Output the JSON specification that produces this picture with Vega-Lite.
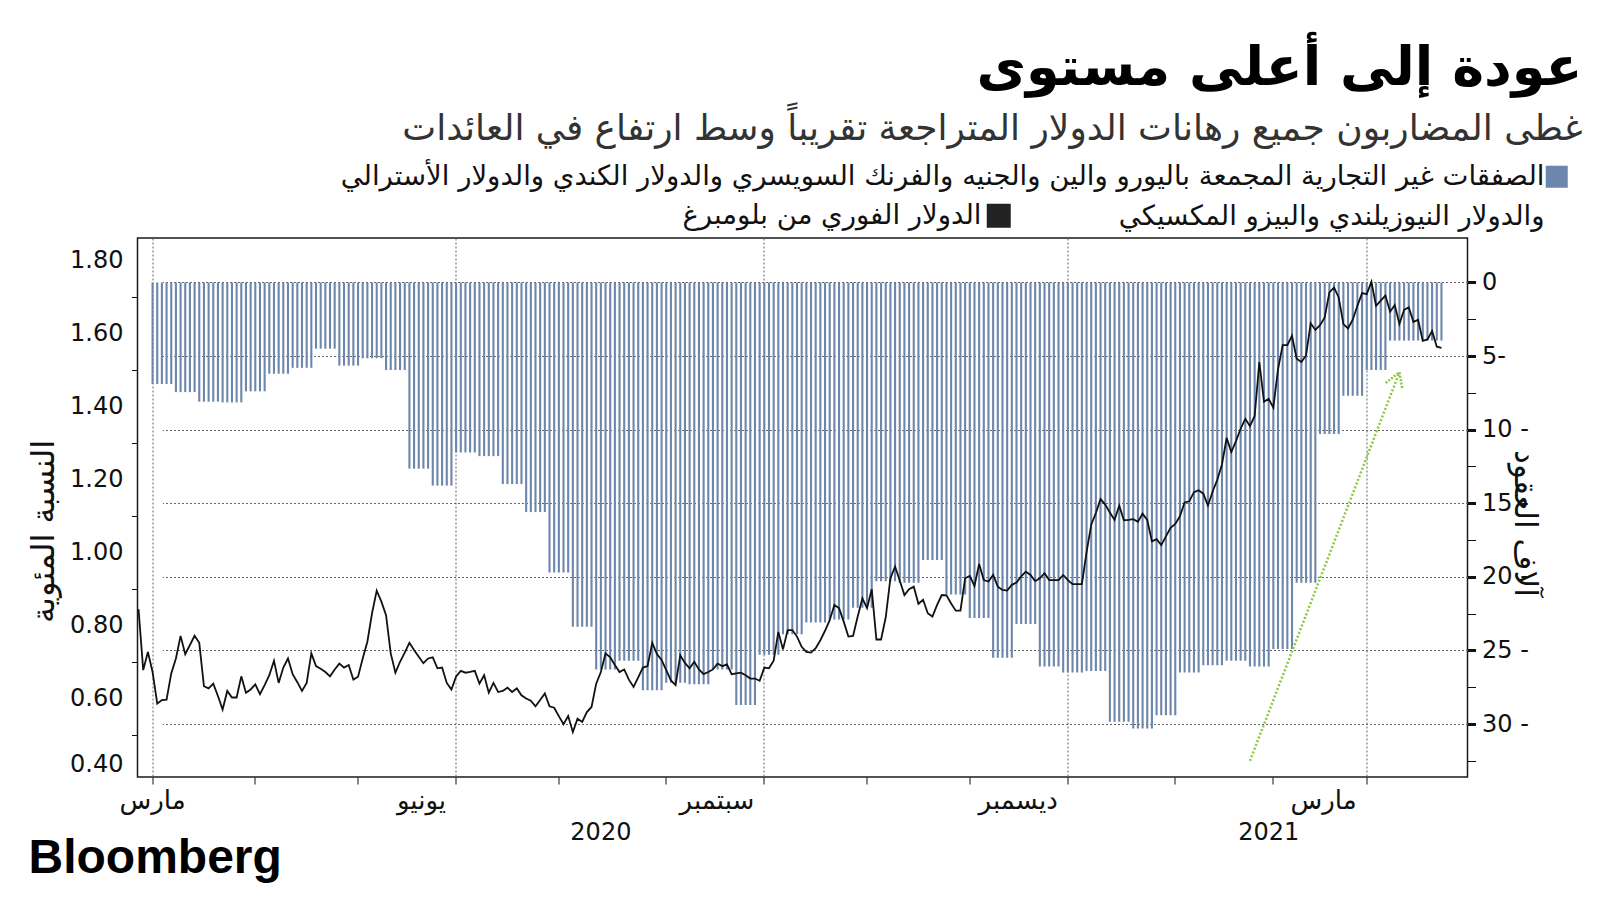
{
  "$schema": "https://vega.github.io/schema/vega-lite/v6.json",
  "autosize": {"type": "none"},
  "padding": {"left": 137.5, "top": 238, "right": 132.5, "bottom": 123},
  "width": 1330,
  "height": 539,
  "background": "#ffffff",
  "config": {
    "view": {"stroke": "#1a1a1a", "strokeWidth": 1.5},
    "font": "DejaVu Sans",
    "axis": {"labelFont": "DejaVu Sans", "titleFont": "DejaVu Sans", "domain": false, "labelColor": "#111111", "tickColor": "#111111", "titleColor": "#111111", "titleFontWeight": "normal"},
    "legend": {"labelFont": "DejaVu Sans"}
  },
  "title": {
    "text": "عودة إلى أعلى مستوى",
    "subtitle": "غطى المضاربون جميع رهانات الدولار المتراجعة تقريباً وسط ارتفاع في العائدات",
    "anchor": "end",
    "frame": "group",
    "orient": "top",
    "dx": 115,
    "offset": 16,
    "font": "DejaVu Sans",
    "fontSize": 54,
    "fontWeight": "bold",
    "color": "#000000",
    "subtitleFont": "DejaVu Sans",
    "subtitleFontSize": 36,
    "subtitleColor": "#333333",
    "subtitlePadding": 16
  },
  "data": {"values": [
    {"d":"2020-02-26","v":0.845},{"d":"2020-02-27","v":0.678},{"d":"2020-02-28","v":0.728},
    {"d":"2020-03-02","v":0.673,"c":-6.9},{"d":"2020-03-03","v":0.586,"c":-6.9},{"d":"2020-03-04","v":0.596,"c":-6.9},{"d":"2020-03-05","v":0.597,"c":-6.9},{"d":"2020-03-06","v":0.669,"c":-6.9},
    {"d":"2020-03-09","v":0.710,"c":-7.45},{"d":"2020-03-10","v":0.772,"c":-7.45},{"d":"2020-03-11","v":0.722,"c":-7.45},{"d":"2020-03-12","v":0.747,"c":-7.45},{"d":"2020-03-13","v":0.772,"c":-7.45},
    {"d":"2020-03-16","v":0.753,"c":-8.1},{"d":"2020-03-17","v":0.634,"c":-8.1},{"d":"2020-03-18","v":0.628,"c":-8.1},{"d":"2020-03-19","v":0.641,"c":-8.1},{"d":"2020-03-20","v":0.607,"c":-8.1},
    {"d":"2020-03-23","v":0.570,"c":-8.15},{"d":"2020-03-24","v":0.621,"c":-8.15},{"d":"2020-03-25","v":0.603,"c":-8.15},{"d":"2020-03-26","v":0.603,"c":-8.15},{"d":"2020-03-27","v":0.661,"c":-8.15},
    {"d":"2020-03-30","v":0.616,"c":-7.4},{"d":"2020-03-31","v":0.625,"c":-7.4},{"d":"2020-04-01","v":0.639,"c":-7.4},{"d":"2020-04-02","v":0.612,"c":-7.4},{"d":"2020-04-03","v":0.637,"c":-7.4},
    {"d":"2020-04-06","v":0.664,"c":-6.2},{"d":"2020-04-07","v":0.704,"c":-6.2},{"d":"2020-04-08","v":0.643,"c":-6.2},{"d":"2020-04-09","v":0.685,"c":-6.2},{"d":"2020-04-10","v":0.710,"c":-6.2},
    {"d":"2020-04-13","v":0.667,"c":-5.8},{"d":"2020-04-14","v":0.645,"c":-5.8},{"d":"2020-04-15","v":0.621,"c":-5.8},{"d":"2020-04-16","v":0.643,"c":-5.8},{"d":"2020-04-17","v":0.724,"c":-5.8},
    {"d":"2020-04-20","v":0.689,"c":-4.5},{"d":"2020-04-21","v":0.682,"c":-4.5},{"d":"2020-04-22","v":0.673,"c":-4.5},{"d":"2020-04-23","v":0.661,"c":-4.5},{"d":"2020-04-24","v":0.680,"c":-4.5},
    {"d":"2020-04-27","v":0.696,"c":-5.65},{"d":"2020-04-28","v":0.685,"c":-5.65},{"d":"2020-04-29","v":0.692,"c":-5.65},{"d":"2020-04-30","v":0.652,"c":-5.65},{"d":"2020-05-01","v":0.660,"c":-5.65},
    {"d":"2020-05-04","v":0.710,"c":-5.15},{"d":"2020-05-05","v":0.756,"c":-5.15},{"d":"2020-05-06","v":0.834,"c":-5.15},{"d":"2020-05-07","v":0.896,"c":-5.15},{"d":"2020-05-08","v":0.866,"c":-5.15},
    {"d":"2020-05-11","v":0.829,"c":-5.95},{"d":"2020-05-12","v":0.724,"c":-5.95},{"d":"2020-05-13","v":0.671,"c":-5.95},{"d":"2020-05-14","v":0.701,"c":-5.95},{"d":"2020-05-15","v":0.726,"c":-5.95},
    {"d":"2020-05-18","v":0.753,"c":-12.65},{"d":"2020-05-19","v":0.733,"c":-12.65},{"d":"2020-05-20","v":0.715,"c":-12.65},{"d":"2020-05-21","v":0.697,"c":-12.65},{"d":"2020-05-22","v":0.710,"c":-12.65},
    {"d":"2020-05-25","v":0.713,"c":-13.8},{"d":"2020-05-26","v":0.683,"c":-13.8},{"d":"2020-05-27","v":0.685,"c":-13.8},{"d":"2020-05-28","v":0.643,"c":-13.8},{"d":"2020-05-29","v":0.625,"c":-13.8},
    {"d":"2020-06-01","v":0.661,"c":-11.55},{"d":"2020-06-02","v":0.676,"c":-11.55},{"d":"2020-06-03","v":0.671,"c":-11.55},{"d":"2020-06-04","v":0.673,"c":-11.55},{"d":"2020-06-05","v":0.676,"c":-11.55},
    {"d":"2020-06-08","v":0.641,"c":-11.8},{"d":"2020-06-09","v":0.664,"c":-11.8},{"d":"2020-06-10","v":0.616,"c":-11.8},{"d":"2020-06-11","v":0.643,"c":-11.8},{"d":"2020-06-12","v":0.618,"c":-11.8},
    {"d":"2020-06-15","v":0.621,"c":-13.7},{"d":"2020-06-16","v":0.630,"c":-13.7},{"d":"2020-06-17","v":0.618,"c":-13.7},{"d":"2020-06-18","v":0.628,"c":-13.7},{"d":"2020-06-19","v":0.609,"c":-13.7},
    {"d":"2020-06-22","v":0.600,"c":-15.6},{"d":"2020-06-23","v":0.594,"c":-15.6},{"d":"2020-06-24","v":0.579,"c":-15.6},{"d":"2020-06-25","v":0.596,"c":-15.6},{"d":"2020-06-26","v":0.614,"c":-15.6},
    {"d":"2020-06-29","v":0.579,"c":-19.7},{"d":"2020-06-30","v":0.575,"c":-19.7},{"d":"2020-07-01","v":0.552,"c":-19.7},{"d":"2020-07-02","v":0.530,"c":-19.7},{"d":"2020-07-03","v":0.552,"c":-19.7},
    {"d":"2020-07-06","v":0.508,"c":-23.4},{"d":"2020-07-07","v":0.545,"c":-23.4},{"d":"2020-07-08","v":0.536,"c":-23.4},{"d":"2020-07-09","v":0.563,"c":-23.4},{"d":"2020-07-10","v":0.577,"c":-23.4},
    {"d":"2020-07-13","v":0.641,"c":-26.3},{"d":"2020-07-14","v":0.673,"c":-26.3},{"d":"2020-07-15","v":0.724,"c":-26.3},{"d":"2020-07-16","v":0.713,"c":-26.3},{"d":"2020-07-17","v":0.692,"c":-26.3},
    {"d":"2020-07-20","v":0.673,"c":-25.7},{"d":"2020-07-21","v":0.680,"c":-25.7},{"d":"2020-07-22","v":0.652,"c":-25.7},{"d":"2020-07-23","v":0.632,"c":-25.7},{"d":"2020-07-24","v":0.658,"c":-25.7},
    {"d":"2020-07-27","v":0.685,"c":-27.7},{"d":"2020-07-28","v":0.689,"c":-27.7},{"d":"2020-07-29","v":0.753,"c":-27.7},{"d":"2020-07-30","v":0.722,"c":-27.7},{"d":"2020-07-31","v":0.706,"c":-27.7},
    {"d":"2020-08-03","v":0.678,"c":-27.2},{"d":"2020-08-04","v":0.650,"c":-27.2},{"d":"2020-08-05","v":0.637,"c":-27.2},{"d":"2020-08-06","v":0.719,"c":-27.2},{"d":"2020-08-07","v":0.698,"c":-27.2},
    {"d":"2020-08-10","v":0.683,"c":-27.3},{"d":"2020-08-11","v":0.701,"c":-27.3},{"d":"2020-08-12","v":0.680,"c":-27.3},{"d":"2020-08-13","v":0.667,"c":-27.3},{"d":"2020-08-14","v":0.673,"c":-27.3},
    {"d":"2020-08-17","v":0.680,"c":-26.3},{"d":"2020-08-18","v":0.696,"c":-26.3},{"d":"2020-08-19","v":0.689,"c":-26.3},{"d":"2020-08-20","v":0.694,"c":-26.3},{"d":"2020-08-21","v":0.667,"c":-26.3},
    {"d":"2020-08-24","v":0.669,"c":-28.7},{"d":"2020-08-25","v":0.671,"c":-28.7},{"d":"2020-08-26","v":0.664,"c":-28.7},{"d":"2020-08-27","v":0.655,"c":-28.7},{"d":"2020-08-28","v":0.655,"c":-28.7},
    {"d":"2020-08-31","v":0.649,"c":-25.3},{"d":"2020-09-01","v":0.685,"c":-25.3},{"d":"2020-09-02","v":0.683,"c":-25.3},{"d":"2020-09-03","v":0.704,"c":-25.3},{"d":"2020-09-04","v":0.783,"c":-25.3},
    {"d":"2020-09-07","v":0.735,"c":-23.9},{"d":"2020-09-08","v":0.788,"c":-23.9},{"d":"2020-09-09","v":0.788,"c":-23.9},{"d":"2020-09-10","v":0.770,"c":-23.9},{"d":"2020-09-11","v":0.742,"c":-23.9},
    {"d":"2020-09-14","v":0.728,"c":-23.1},{"d":"2020-09-15","v":0.726,"c":-23.1},{"d":"2020-09-16","v":0.738,"c":-23.1},{"d":"2020-09-17","v":0.760,"c":-23.1},{"d":"2020-09-18","v":0.786,"c":-23.1},
    {"d":"2020-09-21","v":0.815,"c":-22.9},{"d":"2020-09-22","v":0.857,"c":-22.9},{"d":"2020-09-23","v":0.848,"c":-22.9},{"d":"2020-09-24","v":0.811,"c":-22.9},{"d":"2020-09-25","v":0.770,"c":-22.9},
    {"d":"2020-09-28","v":0.772,"c":-22.1},{"d":"2020-09-29","v":0.825,"c":-22.1},{"d":"2020-09-30","v":0.875,"c":-22.1},{"d":"2020-10-01","v":0.848,"c":-22.1},{"d":"2020-10-02","v":0.900,"c":-22.1},
    {"d":"2020-10-05","v":0.762,"c":-20.3},{"d":"2020-10-06","v":0.762,"c":-20.3},{"d":"2020-10-07","v":0.823,"c":-20.3},{"d":"2020-10-08","v":0.930,"c":-20.3},{"d":"2020-10-09","v":0.962,"c":-20.3},
    {"d":"2020-10-12","v":0.924,"c":-20.4},{"d":"2020-10-13","v":0.884,"c":-20.4},{"d":"2020-10-14","v":0.900,"c":-20.4},{"d":"2020-10-15","v":0.907,"c":-20.4},{"d":"2020-10-16","v":0.860,"c":-20.4},
    {"d":"2020-10-19","v":0.871,"c":-18.85},{"d":"2020-10-20","v":0.834,"c":-18.85},{"d":"2020-10-21","v":0.825,"c":-18.85},{"d":"2020-10-22","v":0.857,"c":-18.85},{"d":"2020-10-23","v":0.884,"c":-18.85},
    {"d":"2020-10-26","v":0.883,"c":-21.2},{"d":"2020-10-27","v":0.861,"c":-21.2},{"d":"2020-10-28","v":0.841,"c":-21.2},{"d":"2020-10-29","v":0.841,"c":-21.2},{"d":"2020-10-30","v":0.930,"c":-21.2},
    {"d":"2020-11-02","v":0.936,"c":-22.8},{"d":"2020-11-03","v":0.909,"c":-22.8},{"d":"2020-11-04","v":0.969,"c":-22.8},{"d":"2020-11-05","v":0.925,"c":-22.8},{"d":"2020-11-06","v":0.921,"c":-22.8},
    {"d":"2020-11-09","v":0.939,"c":-25.5},{"d":"2020-11-10","v":0.907,"c":-25.5},{"d":"2020-11-11","v":0.898,"c":-25.5},{"d":"2020-11-12","v":0.896,"c":-25.5},{"d":"2020-11-13","v":0.912,"c":-25.5},
    {"d":"2020-11-16","v":0.918,"c":-23.2},{"d":"2020-11-17","v":0.935,"c":-23.2},{"d":"2020-11-18","v":0.948,"c":-23.2},{"d":"2020-11-19","v":0.939,"c":-23.2},{"d":"2020-11-20","v":0.922,"c":-23.2},
    {"d":"2020-11-23","v":0.930,"c":-26.1},{"d":"2020-11-24","v":0.944,"c":-26.1},{"d":"2020-11-25","v":0.925,"c":-26.1},{"d":"2020-11-26","v":0.925,"c":-26.1},{"d":"2020-11-27","v":0.925,"c":-26.1},
    {"d":"2020-11-30","v":0.939,"c":-26.5},{"d":"2020-12-01","v":0.925,"c":-26.5},{"d":"2020-12-02","v":0.914,"c":-26.5},{"d":"2020-12-03","v":0.914,"c":-26.5},{"d":"2020-12-04","v":0.914,"c":-26.5},
    {"d":"2020-12-07","v":1.001,"c":-26.4},{"d":"2020-12-08","v":1.077,"c":-26.4},{"d":"2020-12-09","v":1.109,"c":-26.4},{"d":"2020-12-10","v":1.147,"c":-26.4},{"d":"2020-12-11","v":1.132,"c":-26.4},
    {"d":"2020-12-14","v":1.110,"c":-29.85},{"d":"2020-12-15","v":1.090,"c":-29.85},{"d":"2020-12-16","v":1.129,"c":-29.85},{"d":"2020-12-17","v":1.089,"c":-29.85},{"d":"2020-12-18","v":1.090,"c":-29.85},
    {"d":"2020-12-21","v":1.092,"c":-30.3},{"d":"2020-12-22","v":1.085,"c":-30.3},{"d":"2020-12-23","v":1.107,"c":-30.3},{"d":"2020-12-24","v":1.090,"c":-30.3},{"d":"2020-12-25","v":1.031,"c":-30.3},
    {"d":"2020-12-28","v":1.037,"c":-29.4},{"d":"2020-12-29","v":1.021,"c":-29.4},{"d":"2020-12-30","v":1.045,"c":-29.4},{"d":"2020-12-31","v":1.068,"c":-29.4},{"d":"2021-01-01","v":1.079,"c":-29.4},
    {"d":"2021-01-04","v":1.100,"c":-26.5},{"d":"2021-01-05","v":1.138,"c":-26.5},{"d":"2021-01-06","v":1.141,"c":-26.5},{"d":"2021-01-07","v":1.166,"c":-26.5},{"d":"2021-01-08","v":1.171,"c":-26.5},
    {"d":"2021-01-11","v":1.162,"c":-26.0},{"d":"2021-01-12","v":1.129,"c":-26.0},{"d":"2021-01-13","v":1.168,"c":-26.0},{"d":"2021-01-14","v":1.200,"c":-26.0},{"d":"2021-01-15","v":1.242,"c":-26.0},
    {"d":"2021-01-18","v":1.315,"c":-25.7},{"d":"2021-01-19","v":1.276,"c":-25.7},{"d":"2021-01-20","v":1.306,"c":-25.7},{"d":"2021-01-21","v":1.340,"c":-25.7},{"d":"2021-01-22","v":1.367,"c":-25.7},
    {"d":"2021-01-25","v":1.347,"c":-26.1},{"d":"2021-01-26","v":1.375,"c":-26.1},{"d":"2021-01-27","v":1.523,"c":-26.1},{"d":"2021-01-28","v":1.414,"c":-26.1},{"d":"2021-01-29","v":1.422,"c":-26.1},
    {"d":"2021-02-01","v":1.398,"c":-24.9},{"d":"2021-02-02","v":1.503,"c":-24.9},{"d":"2021-02-03","v":1.569,"c":-24.9},{"d":"2021-02-04","v":1.569,"c":-24.9},{"d":"2021-02-05","v":1.595,"c":-24.9},
    {"d":"2021-02-08","v":1.532,"c":-20.4},{"d":"2021-02-09","v":1.523,"c":-20.4},{"d":"2021-02-10","v":1.541,"c":-20.4},{"d":"2021-02-11","v":1.629,"c":-20.4},{"d":"2021-02-12","v":1.611,"c":-20.4},
    {"d":"2021-02-15","v":1.624,"c":-10.3},{"d":"2021-02-16","v":1.645,"c":-10.3},{"d":"2021-02-17","v":1.714,"c":-10.3},{"d":"2021-02-18","v":1.727,"c":-10.3},{"d":"2021-02-19","v":1.700,"c":-10.3},
    {"d":"2021-02-22","v":1.627,"c":-7.7},{"d":"2021-02-23","v":1.615,"c":-7.7},{"d":"2021-02-24","v":1.639,"c":-7.7},{"d":"2021-02-25","v":1.677,"c":-7.7},{"d":"2021-02-26","v":1.712,"c":-7.7},
    {"d":"2021-03-01","v":1.709,"c":-5.95},{"d":"2021-03-02","v":1.743,"c":-5.95},{"d":"2021-03-03","v":1.677,"c":-5.95},{"d":"2021-03-04","v":1.691,"c":-5.95},{"d":"2021-03-05","v":1.705,"c":-5.95},
    {"d":"2021-03-08","v":1.661,"c":-3.95},{"d":"2021-03-09","v":1.679,"c":-3.95},{"d":"2021-03-10","v":1.627,"c":-3.95},{"d":"2021-03-11","v":1.666,"c":-3.95},{"d":"2021-03-12","v":1.673,"c":-3.95},
    {"d":"2021-03-15","v":1.633,"c":-3.95},{"d":"2021-03-16","v":1.639,"c":-3.95},{"d":"2021-03-17","v":1.581,"c":-3.95},{"d":"2021-03-18","v":1.585,"c":-3.95},{"d":"2021-03-19","v":1.608,"c":-3.95},
    {"d":"2021-03-22","v":1.565,"c":-3.95},{"d":"2021-03-23","v":1.562,"c":-3.95}
  ]},
  "layer": [
    {
      "mark": {"type": "bar"},
      "encoding": {
        "x": {
          "field": "d", "type": "ordinal",
          "scale": {"type": "band", "paddingInner": 0.55, "paddingOuter": 0, "range": [0, 1305]},
          "axis": {
            "orient": "bottom",
            "title": null,
            "values": ["2020-03-02","2020-04-01","2020-05-01","2020-06-01","2020-07-01","2020-08-03","2020-09-01","2020-10-01","2020-11-02","2020-12-01","2021-01-01","2021-02-01","2021-03-01"],
            "labelExpr": "(datum.value=='2020-03-02'||datum.value=='2021-03-01')?'مارس':datum.value=='2020-06-01'?'يونيو':datum.value=='2020-09-01'?'سبتمبر':datum.value=='2020-12-01'?'ديسمبر':''",
            "labelAngle": 0,
            "labelFontSize": 26,
            "labelPadding": 3,
            "labelAlign": {"condition": {"test": "datum.value=='2020-03-02'", "value": "center"}, "value": "right"},
            "labelOffset": {"condition": {"test": "datum.value=='2020-03-02'", "value": 0}, "value": -10},
            "tickSize": 7,
            "tickWidth": 1,
            "bandPosition": 0.5,
            "labelOverlap": false,
            "labelBound": false,
            "labelFlush": false,
            "grid": true,
            "gridDash": [2, 2],
            "gridColor": "#666666",
            "gridWidth": 1,
            "gridOpacity": {"condition": {"test": "indexof(['2020-03-02','2020-06-01','2020-09-01','2020-12-01','2021-03-01'], datum.value) >= 0", "value": 1}, "value": 0}
          }
        },
        "y": {
          "field": "c", "type": "quantitative",
          "scale": {"domain": [-33.6, 3.02], "zero": false, "nice": false},
          "axis": {
            "orient": "right",
            "values": [0, -2.5, -5, -7.5, -10, -12.5, -15, -17.5, -20, -22.5, -25, -27.5, -30, -32.5],
            "labelExpr": "datum.value % 5 != 0 ? '' : (datum.value == 0 ? '0' : (abs(datum.value) < 10 ? abs(datum.value) + '-' : abs(datum.value) + ' -'))",
            "labelFontSize": 24,
            "labelPadding": 6,
            "tickSize": 8,
            "tickWidth": {"condition": {"test": "datum.value % 5 == 0", "value": 3}, "value": 1},
            "labelOverlap": false,
            "labelBound": false,
            "labelFlush": false,
            "grid": true,
            "gridDash": [2, 2],
            "gridColor": "#666666",
            "gridWidth": 1,
            "gridOpacity": {"condition": {"test": "datum.value % 5 == 0", "value": 1}, "value": 0},
            "title": "آلاف العقود",
            "titleFontSize": 31,
            "titleAngle": 90,
            "titleX": 56,
            "titleY": 285,
            "titleAlign": "center",
            "titleBaseline": "middle"
          }
        },
        "color": {
          "datum": "noncommercial",
          "scale": {"range": ["#6d86ab"]},
          "legend": {
            "orient": "none",
            "legendX": 1405.5,
            "legendY": -75,
            "title": null,
            "padding": 0,
            "symbolType": "square",
            "symbolSize": 484,
            "symbolStrokeWidth": 0,
            "labelFontSize": 27.5,
            "labelColor": "#111111",
            "labelAlign": "right",
            "labelOffset": -26,
            "labelLimit": 3000,
            "labelExpr": "['الصفقات غير التجارية المجمعة باليورو والين والجنيه والفرنك السويسري والدولار الكندي والدولار الأسترالي', 'والدولار النيوزيلندي والبيزو المكسيكي']",
            "encode": {"labels": {"update": {"lineHeight": {"value": 40}, "dy": {"value": 0}}}}
          }
        }
      }
    },
    {
      "mark": {"type": "line", "strokeWidth": 1.8},
      "encoding": {
        "x": {
          "field": "d", "type": "ordinal",
          "axis": {
            "orient": "bottom",
            "values": ["2020-07-14", "2021-01-29"],
            "labelExpr": "substring(datum.value, 0, 4)",
            "labelAngle": 0,
            "ticks": false,
            "tickSize": 0,
            "labelPadding": 43,
            "labelFontSize": 24,
            "bandPosition": 0.5,
            "grid": false,
            "labelOverlap": false,
            "labelBound": false,
            "labelFlush": false,
            "title": "Bloomberg",
            "titleFont": "Liberation Sans",
            "titleFontSize": 48,
            "titleFontWeight": "bold",
            "titleColor": "#000000",
            "titleX": -109.5,
            "titleY": 95,
            "titleAlign": "left",
            "titleBaseline": "alphabetic",
            "titleAngle": 0,
            "titleLimit": 1000
          }
        },
        "y": {
          "field": "v", "type": "quantitative",
          "scale": {"domain": [0.385, 1.863], "zero": false, "nice": false},
          "axis": {
            "orient": "left",
            "values": [0.4, 0.5, 0.6, 0.7, 0.8, 0.9, 1.0, 1.1, 1.2, 1.3, 1.4, 1.5, 1.6, 1.7, 1.8],
            "labelExpr": "round(datum.value*10) % 2 == 0 ? format(datum.value, '.2f') : ''",
            "tickOpacity": {"condition": {"test": "round(datum.value*10) % 2 == 1", "value": 1}, "value": 0},
            "labelBaseline": {"condition": {"test": "datum.value < 0.45", "value": "alphabetic"}, "value": "middle"},
            "tickSize": 6,
            "labelFontSize": 24,
            "labelPadding": 8.5,
            "grid": false,
            "labelOverlap": false,
            "labelBound": false,
            "labelFlush": false,
            "title": "النسبة المئوية",
            "titleFontSize": 32,
            "titleAngle": -90,
            "titleX": -94.5,
            "titleY": 293,
            "titleAlign": "center",
            "titleBaseline": "middle"
          }
        },
        "stroke": {
          "datum": "الدولار الفوري من بلومبرغ",
          "scale": {"range": ["#111111"]},
          "legend": {
            "orient": "none",
            "legendX": 847.5,
            "legendY": -36,
            "title": null,
            "padding": 0,
            "symbolType": "square",
            "symbolSize": 576,
            "symbolFillColor": "#222222",
            "symbolStrokeColor": "#222222",
            "symbolStrokeWidth": 0,
            "labelFontSize": 27.5,
            "labelColor": "#111111",
            "labelAlign": "right",
            "labelOffset": -31,
            "labelLimit": 2000,
            "encode": {"symbols": {"update": {"fill": {"value": "#222222"}, "shape": {"value": "square"}}}}
          }
        }
      }
    },
    {
      "data": {"values": [{"d": "2021-01-25", "c": -32.5, "d2": "2021-03-10", "c2": -6.1}]},
      "mark": {"type": "rule", "color": "#8dc63f", "strokeWidth": 2.5, "strokeDash": [2, 2]},
      "encoding": {
        "x": {"field": "d", "type": "ordinal", "axis": null},
        "x2": {"field": "d2"},
        "y": {"field": "c", "type": "quantitative", "scale": {"domain": [-33.6, 3.02], "zero": false, "nice": false}, "axis": null},
        "y2": {"field": "c2"}
      }
    },
    {
      "data": {"values": [{"d": "2021-03-10", "c": -6.1}]},
      "mark": {"type": "point", "shape": "M-0.6,1L0,0L0.6,1", "filled": false, "stroke": "#8dc63f", "strokeWidth": 2.5, "strokeDash": [2, 1.5], "size": 900, "angle": 21, "opacity": 1},
      "encoding": {
        "x": {"field": "d", "type": "ordinal", "axis": null},
        "y": {"field": "c", "type": "quantitative", "scale": {"domain": [-33.6, 3.02], "zero": false, "nice": false}, "axis": null}
      }
    }
  ],
  "resolve": {"scale": {"y": "independent"}, "axis": {"x": "independent"}}
}
